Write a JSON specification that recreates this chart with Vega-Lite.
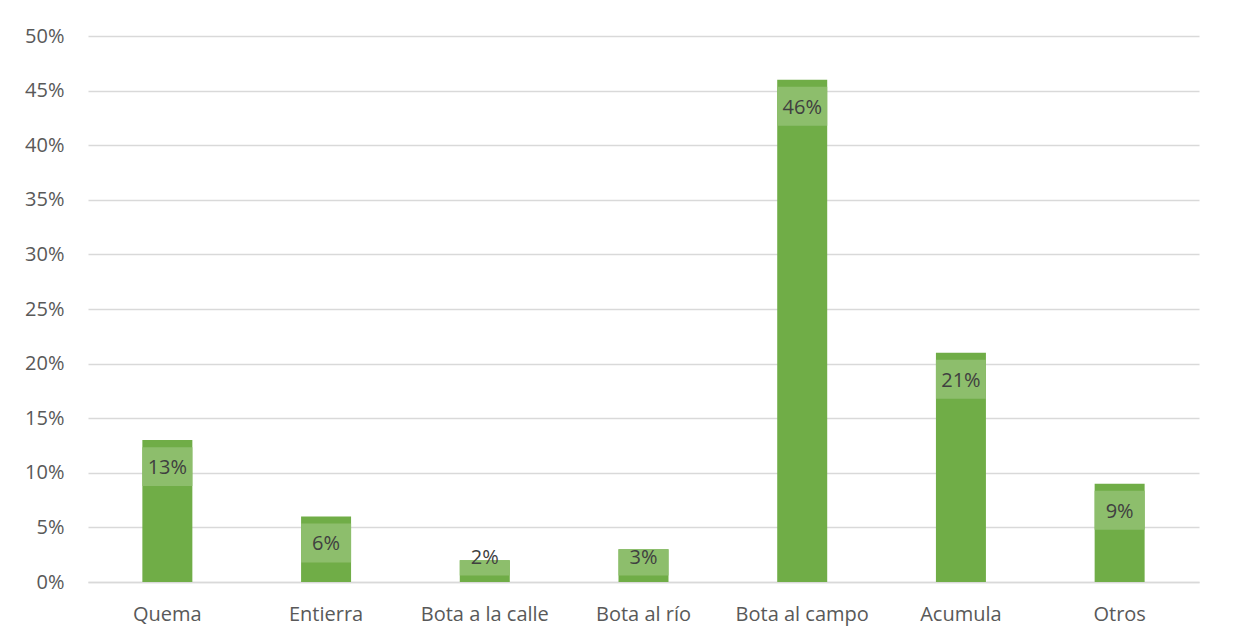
{
  "$schema": "https://vega.github.io/schema/vega-lite/v6.json",
  "width": 1111,
  "height": 546,
  "autosize": {"type": "none"},
  "padding": {"left": 88, "top": 36, "right": 34, "bottom": 58},
  "background": "white",
  "data": {
    "values": [
      {"category": "Quema", "value": 0.13},
      {"category": "Entierra", "value": 0.06},
      {"category": "Bota a la calle", "value": 0.02},
      {"category": "Bota al río", "value": 0.03},
      {"category": "Bota al campo", "value": 0.46},
      {"category": "Acumula", "value": 0.21},
      {"category": "Otros", "value": 0.09}
    ]
  },
  "transform": [
    {"calculate": "max(datum.value, 0.048)", "as": "labelPos"},
    {"calculate": "min(datum.value, datum.labelPos - 0.0065)", "as": "boxTop"}
  ],
  "encoding": {
    "x": {
      "field": "category",
      "type": "nominal",
      "sort": null,
      "scale": {"paddingInner": 0.685, "paddingOuter": 0.3425},
      "axis": {
        "title": null,
        "labelAngle": 0,
        "ticks": false,
        "domainColor": "#D9D9D9",
        "domainWidth": 1.3,
        "labelPadding": 22,
        "labelFont": "Open Sans",
        "labelFontSize": 20,
        "labelColor": "#595959"
      }
    }
  },
  "layer": [
    {
      "mark": {"type": "bar", "color": "#70AD47"},
      "encoding": {
        "y": {
          "field": "value",
          "type": "quantitative",
          "scale": {"domain": [0, 0.5]},
          "axis": {
            "title": null,
            "format": ".0%",
            "values": [0, 0.05, 0.1, 0.15, 0.2, 0.25, 0.3, 0.35, 0.4, 0.45, 0.5],
            "ticks": false,
            "domain": false,
            "gridColor": "#D9D9D9",
            "gridWidth": 1.3,
            "labelPadding": 24,
            "labelFont": "Open Sans",
            "labelFontSize": 20,
            "labelColor": "#595959"
          }
        }
      }
    },
    {
      "mark": {"type": "bar", "color": "#8DBE6C", "y2Offset": 46, "clip": true},
      "encoding": {
        "y": {"field": "boxTop", "type": "quantitative"},
        "y2": {"field": "labelPos"}
      }
    },
    {
      "mark": {"type": "text", "dy": 28, "baseline": "middle", "align": "center", "font": "Open Sans", "fontSize": 20, "color": "#404040"},
      "encoding": {
        "y": {"field": "labelPos", "type": "quantitative"},
        "text": {"field": "value", "type": "quantitative", "format": ".0%"}
      }
    }
  ],
  "config": {
    "view": {"stroke": null}
  }
}
